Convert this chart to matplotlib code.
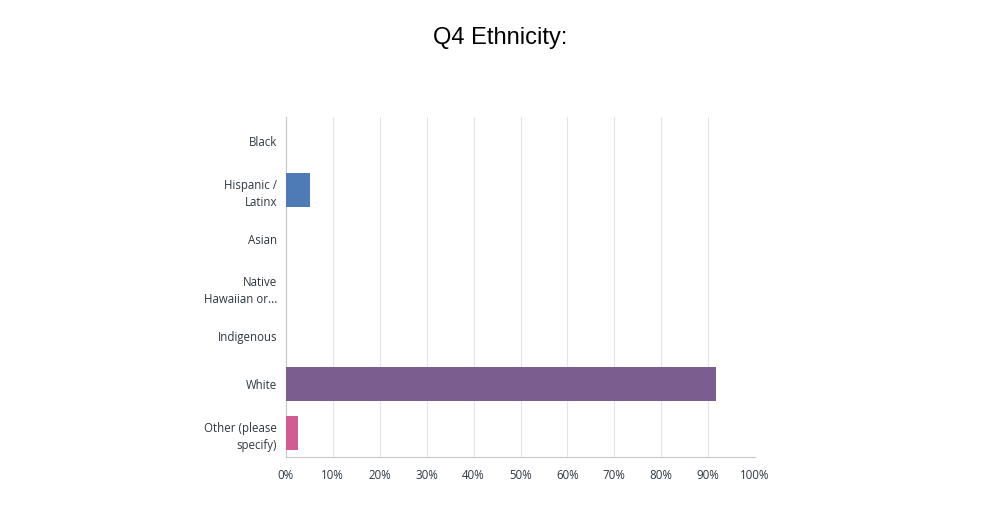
import matplotlib
matplotlib.use("Agg")
import matplotlib.pyplot as plt
import numpy as np

categories = ["Black", "Hispanic /\nLatinx", "Asian", "Native\nHawaiian or...",
              "Indigenous", "White", "Other (please\nspecify)"]
values = [0.0, 5.1, 0.0, 0.0, 0.0, 91.7, 2.6]
colors = ["#2fa9d8", "#4e7bb5", "#6b6fa8", "#8b5a9c", "#a65a9a", "#7b5e8f", "#d25b93"]
xticks = np.arange(0, 101, 10)
xlabels = ["{}%".format(t) for t in xticks]

fig = plt.figure(figsize=(10, 5.3), dpi=100)
ax = fig.add_axes([0.286, 0.137, 0.469, 0.642])

y = np.arange(len(categories))
ax.barh(y, values, height=0.7, color=colors, zorder=3)
ax.set_ylim(len(categories) - 0.5, -0.5)
ax.set_xlim(0, 100)

ax.set_xticks(xticks)
ax.set_xticklabels(xlabels, fontsize=8.3, color="#2e3740", family="Open Sans")
ax.set_yticks(y)
ax.set_yticklabels(categories, fontsize=8.3, color="#2e3740", family="Open Sans",
                   linespacing=1.4)
ax.tick_params(axis="x", length=0, pad=8)
ax.tick_params(axis="y", length=0, pad=6.5)

ax.grid(axis="x", color="#e4e4e4", linewidth=0.8, zorder=0)
for s in ["top", "right"]:
    ax.spines[s].set_visible(False)
ax.spines["left"].set_color("#c8c8c8")
ax.spines["bottom"].set_color("#c8c8c8")

fig.text(0.5, 0.928, "Q4 Ethnicity:", ha="center", va="center",
         fontsize=17, family="Liberation Sans", color="#000000")

fig.savefig("out.png", dpi=100)
